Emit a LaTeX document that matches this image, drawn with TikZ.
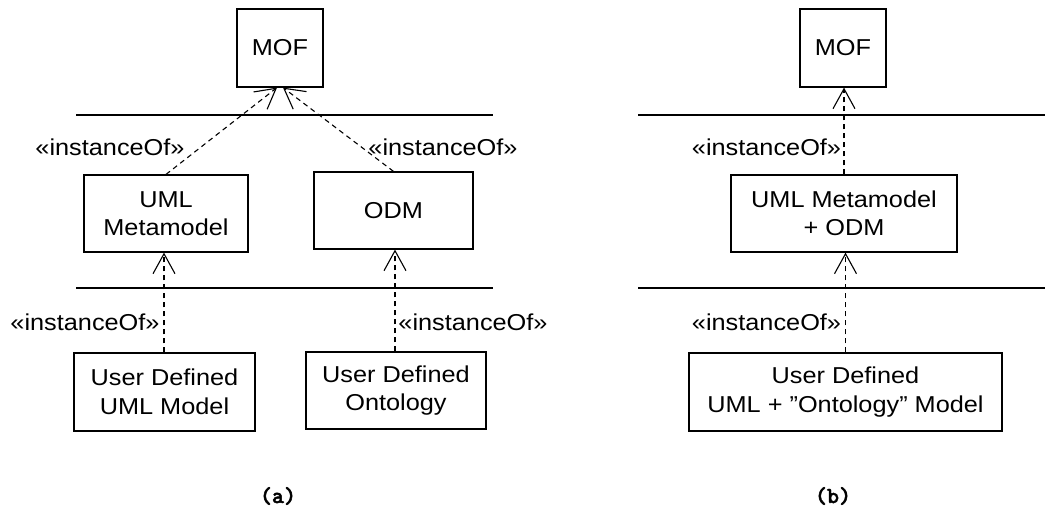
\documentclass[tikz,border=0pt]{standalone}
\usepackage{fontspec}
\setmainfont{Liberation Sans}[FakeStretch=1.1]
\newfontfamily\capfont{lmmonolt10-bold}[Extension=.otf, FakeBold=2]
\usetikzlibrary{arrows.meta}

\tikzset{
  metabox/.style={draw, line width=1.2pt, inner sep=0pt, align=center,
    font=\fontsize{23}{28.5}\selectfont},
  layerline/.style={line width=1.1pt},
  instof/.style={draw, line width=1.1pt, dash pattern=on 5pt off 4pt,
    -{Straight Barb[length=20pt,width=22pt,line width=1.1pt]}},
  stereo/.style={inner sep=0pt, font=\fontsize{23}{28}\selectfont},
  panelcap/.style={inner sep=0pt, font=\capfont\fontsize{23}{26}\selectfont}
}

\begin{document}
\begin{tikzpicture}[x=1pt, y=-1pt]
  \useasboundingbox (0,0) rectangle (1047,508);

  % ---------- panel (a) ----------
  \node[metabox, minimum width=86pt, minimum height=78pt] (mofa) at (280,48) {MOF};
  \node[metabox, minimum width=164pt, minimum height=77pt] (umlmm) at (166,213.5) {UML\\Metamodel};
  \node[metabox, minimum width=159pt, minimum height=77pt] (odm) at (393.5,210.5) {ODM};
  \node[metabox, minimum width=181pt, minimum height=78pt] (umlmodel) at (164.5,392) {User Defined\\UML Model};
  \node[metabox, minimum width=180pt, minimum height=77pt] (onto) at (396,390.5) {User Defined\\Ontology};

  \coordinate (la1) at (76,115);  \coordinate (ra1) at (493,115);
  \coordinate (la2) at (76,288);  \coordinate (ra2) at (493,288);
  \draw[layerline] (la1) -- (ra1);
  \draw[layerline] (la2) -- (ra2);

  \draw[instof] (umlmm.north) -- ([xshift=-3pt]mofa.south);
  \draw[instof] (odm.north) -- ([xshift=3pt]mofa.south);
  \draw[instof] ([xshift=-0.5pt]umlmodel.north) -- ([xshift=-0.5pt]umlmodel.north |- umlmm.south);
  \draw[instof] ([xshift=-1pt]onto.north) -- ([xshift=-1pt]onto.north |- odm.south);

  \node[stereo] (sa1) at (110,147) {«instanceOf»};
  \node[stereo] (sa2) at (443,147) {«instanceOf»};
  \node[stereo] (sa3) at (85,322) {«instanceOf»};
  \node[stereo] (sa4) at (473,322) {«instanceOf»};

  \node[panelcap] (capa) at (278,496) {(a)};

  % ---------- panel (b) ----------
  \node[metabox, minimum width=86pt, minimum height=78pt] (mofb) at (843,48) {MOF};
  \node[metabox, minimum width=226pt, minimum height=77pt] (merged) at (844,213.5) {UML Metamodel\\+ ODM};
  \node[metabox, minimum width=313pt, minimum height=78pt] (userb) at (845.5,392) {User Defined\\UML + ”Ontology” Model};

  \coordinate (lb1) at (638,115);  \coordinate (rb1) at (1045,115);
  \coordinate (lb2) at (638,288);  \coordinate (rb2) at (1045,288);
  \draw[layerline] (lb1) -- (rb1);
  \draw[layerline] (lb2) -- (rb2);

  \draw[instof] (merged.north) -- (merged.north |- mofb.south);
  \draw[instof] (userb.north) -- (userb.north |- merged.south);

  \node[stereo] (sb1) at (766.5,147) {«instanceOf»};
  \node[stereo] (sb2) at (766.5,322) {«instanceOf»};

  \node[panelcap] (capb) at (833,496) {(b)};
\end{tikzpicture}
\end{document}
